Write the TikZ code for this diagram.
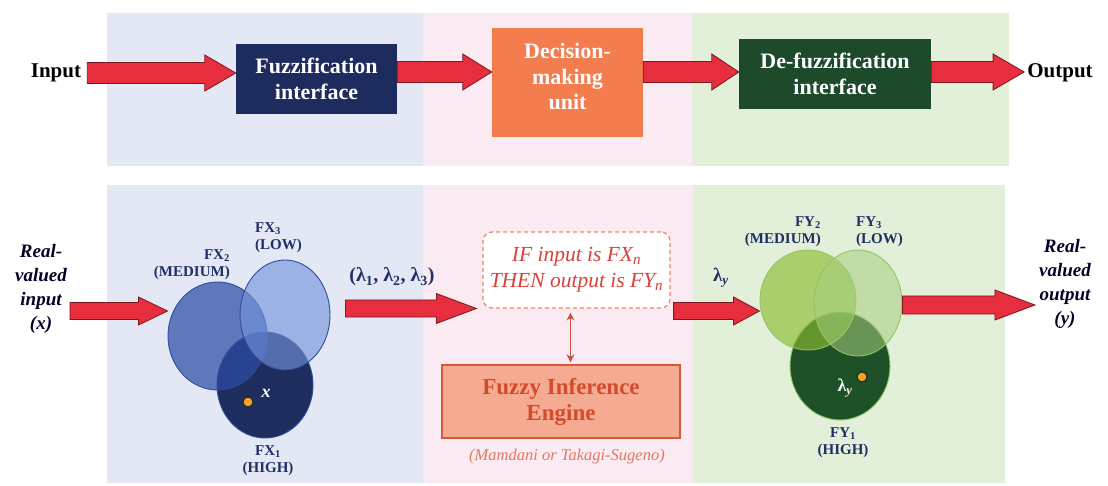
\documentclass[tikz,border=0pt]{standalone}
\usepackage{fontspec}
\setmainfont{Liberation Serif}
\usetikzlibrary{shapes.geometric,arrows.meta,calc}

\definecolor{bandBlue}{HTML}{E4E8F5}
\definecolor{bandPink}{HTML}{FAEBF3}
\definecolor{bandGreen}{HTML}{E3F0D9}
\definecolor{navyBox}{HTML}{1E2B5E}
\definecolor{orangeBox}{HTML}{F47D4F}
\definecolor{forestBox}{HTML}{1E4A2C}
\definecolor{arrowRed}{HTML}{E62E3E}
\definecolor{arrowEdge}{HTML}{7A1A1E}
\definecolor{labelNavy}{HTML}{1F2F66}
\definecolor{fxHigh}{HTML}{1E2C5E}
\definecolor{fxMed}{RGB}{45,78,165}
\definecolor{fxLow}{RGB}{116,148,219}
\definecolor{fxEdge}{HTML}{2E4C9A}
\definecolor{fyHigh}{HTML}{1E5128}
\definecolor{fyMed}{RGB}{140,188,50}
\definecolor{fyLow}{RGB}{166,205,125}
\definecolor{fyEdge}{HTML}{94C462}
\definecolor{dotFill}{HTML}{F5A623}
\definecolor{ruleRed}{HTML}{D9413A}
\definecolor{ruleDash}{HTML}{EE8466}
\definecolor{engineFill}{HTML}{F5AB92}
\definecolor{engineEdge}{HTML}{D8573A}
\definecolor{engineText}{HTML}{D24C2C}
\definecolor{linkRed}{HTML}{C65446}

\newcommand\fs[2]{\fontsize{#1}{#2}\selectfont}
% wide horizontal block arrow:
% #1 start point, #2 end point (only its x is used), #3 head length,
% #4 half height of the shaft, #5 half height of the head
\newcommand\fatarrow[5]{%
  \draw[fat] let \p1=#1, \p2=#2 in
    (\x1,\y1+#4) -- (\x2-#3,\y1+#4) -- (\x2-#3,\y1+#5) -- (\x2,\y1)
    -- (\x2-#3,\y1-#5) -- (\x2-#3,\y1-#4) -- (\x1,\y1-#4) -- cycle;}

\begin{document}
\begin{tikzpicture}[x=1pt,y=-1pt,
  txt/.style={inner sep=1pt, align=center},
  topbox/.style={inner sep=0pt, text=white, font=\fs{22}{26}\bfseries, align=center},
  fat/.style={fill=arrowRed, draw=arrowEdge, line width=0.8pt, line join=miter},
  fuzzyset/.style={ellipse, inner sep=0pt, line width=0.9pt},
  lbl/.style={inner sep=0pt, text=labelNavy, font=\fs{15}{17}\bfseries},
  crisp/.style={circle, fill=dotFill, draw=black!85, line width=1.1pt, minimum size=10pt, inner sep=0pt},
  realtxt/.style={txt, text=black!85!blue, font=\fs{19}{24}\bfseries\itshape}]

\useasboundingbox (0,0) rectangle (1108,486);
\fill[white] (0,0) rectangle (1108,486);

% background bands
\fill[bandBlue]  (107,13) rectangle (423,166);
\fill[bandPink]  (423,13) rectangle (692,166);
\fill[bandGreen] (692,13) rectangle (1009,166);
\fill[bandBlue]  (107,185) rectangle (423,483);
\fill[bandPink]  (423,185) rectangle (693,483);
\fill[bandGreen] (693,185) rectangle (1005,483);

% ---------- top row: block diagram ----------
\node[txt, font=\fs{21}{25}\bfseries] (in) at (56,73) {Input};
\node[topbox, fill=navyBox, minimum width=161pt, minimum height=70pt] (fuzz) at (316.5,79) {Fuzzification\\interface};
\node[topbox, fill=orangeBox, minimum width=151pt, minimum height=109pt] (dec) at (567.5,82.5) {};
\node[topbox, font=\fs{22}{25.5}\bfseries] (dectxt) at (567.5,77) {Decision-\\making\\unit};
\node[topbox, fill=forestBox, minimum width=192pt, minimum height=70pt] (defuzz) at (835,74) {De-fuzzification\\interface};
\node[txt, font=\fs{21}{25}\bfseries] (out) at (1060,73) {Output};

\fatarrow{([xshift=5pt]in.east)}{(fuzz.west)}{31pt}{10.5pt}{18pt}
\fatarrow{([yshift=7pt]fuzz.east)}{(dec.west)}{29pt}{10.5pt}{18pt}
\fatarrow{([yshift=10.5pt]dec.east)}{(defuzz.west)}{27pt}{10.5pt}{18pt}
\fatarrow{([yshift=2pt]defuzz.east)}{([xshift=-2pt]out.west)}{31pt}{10.5pt}{18pt}

% ---------- bottom row: fuzzification ----------
\node[realtxt] (realin) at (41,289) {Real-\\valued\\input\\(x)};

\node[fuzzyset, fill=fxHigh, draw=fxEdge, minimum width=96pt, minimum height=106pt] (fx1) at (265,385) {};
\node[fuzzyset, fill=fxMed, fill opacity=0.72, draw=fxEdge, minimum width=99pt, minimum height=108pt] (fx2) at (217.5,336) {};
\node[fuzzyset, fill=fxLow, fill opacity=0.63, draw=fxEdge, minimum width=90pt, minimum height=110pt] (fx3) at (285,315) {};

\node[lbl, align=right, anchor=east] (fx2l) at (230,265) {FX\textsubscript{2}\\(MEDIUM)};
\node[lbl, align=left, anchor=west] (fx3l) at (255,238) {FX\textsubscript{3}\\(LOW)};
\node[lbl, align=center] (fx1l) at (268,461) {FX\textsubscript{1}\\(HIGH)};

\node[crisp] (xdot) at (248,402) {};
\node[inner sep=0pt, text=white, font=\fs{18}{20}\bfseries\itshape] (xlbl) at (266,393) {x};

\fatarrow{([xshift=2pt,yshift=-22pt]realin.east)}{(fx2.west)}{29pt}{8.5pt}{14pt}

\node[inner sep=0pt, text=labelNavy, font=\fs{20}{22}\bfseries] (lams) at (392,277)
  {(λ\textsubscript{1}, λ\textsubscript{2}, λ\textsubscript{3})};

% ---------- bottom row: inference ----------
\node[draw=ruleDash, dash pattern=on 4pt off 3pt, line width=1.2pt, rounded corners=9pt, fill=white,
      minimum width=187pt, minimum height=76pt, text=ruleRed, font=\fs{21.5}{26}\itshape, align=center,
      inner sep=2pt]
  (ifbox) at (576.5,270) {IF input is FX\textsubscript{n}\\THEN output is FY\textsubscript{n}};

\node[draw=engineEdge, line width=1.4pt, fill=engineFill, minimum width=238pt, minimum height=73pt,
      text=engineText, font=\fs{23}{26}\bfseries, align=center]
  (engine) at (561,401.5) {Fuzzy Inference\\Engine};

\node[inner sep=0pt, text=engineEdge!80!white, font=\fs{16.5}{18}\itshape] (method) at (567,457)
  {(Mamdani or Takagi-Sugeno)};

\draw[linkRed, line width=1.2pt, {Stealth[length=8pt,width=8pt]}-{Stealth[length=8pt,width=8pt]},
      shorten <=4pt, shorten >=2pt]
  ([xshift=-6pt]ifbox.south) -- ([xshift=-6pt]ifbox.south |- engine.north);

\fatarrow{([xshift=15pt,yshift=6.5pt]fx3.east)}{([xshift=-6pt]ifbox.west)}{40pt}{8.5pt}{15pt}

\node[inner sep=0pt, text=labelNavy, font=\fs{19}{20}\bfseries] (lamy) at (721,278) {λ\textsubscript{\itshape y}};

% ---------- bottom row: de-fuzzification ----------
\node[fuzzyset, fill=fyHigh, draw=fyEdge, minimum width=100pt, minimum height=108pt] (fy1) at (840,366) {};
\node[fuzzyset, fill=fyMed, fill opacity=0.65, draw=fyEdge, minimum width=96pt, minimum height=100pt] (fy2) at (808,300) {};
\node[fuzzyset, fill=fyLow, fill opacity=0.55, draw=fyEdge, minimum width=88pt, minimum height=106pt] (fy3) at (858,303) {};

\fatarrow{([xshift=3pt,yshift=-41pt]ifbox.east)}{(fy2.west)}{26pt}{8.5pt}{14pt}

\node[lbl, align=right, anchor=east] (fy2l) at (821,232) {FY\textsubscript{2}\\(MEDIUM)};
\node[lbl, align=left, anchor=west] (fy3l) at (856,232) {FY\textsubscript{3}\\(LOW)};
\node[lbl, align=center] (fy1l) at (843,443) {FY\textsubscript{1}\\(HIGH)};

\node[crisp] (ydot) at (862,377) {};
\node[inner sep=0pt, text=white, font=\fs{18}{20}\bfseries] (ylbl) at (845,388) {λ\textsubscript{\itshape y}};

\node[realtxt] (realout) at (1065,284) {Real-\\valued\\output\\(y)};

\fatarrow{([yshift=-2pt]fy3.east)}{([xshift=-3pt]realout.west)}{40pt}{9pt}{15pt}

\end{tikzpicture}
\end{document}
